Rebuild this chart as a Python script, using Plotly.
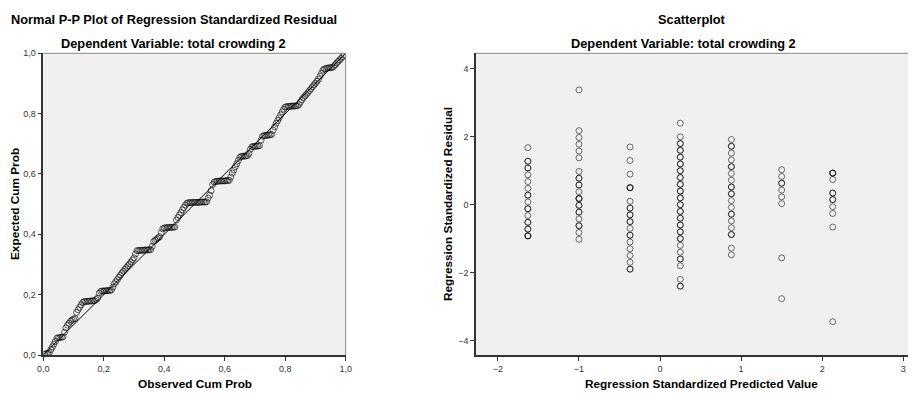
import plotly.graph_objects as go

# ---------------- data ----------------
# Normal P-P plot: observed cum prob (x) vs expected cum prob (y)
pp_observed = [round(0.005 * k, 3) for k in range(1, 200)]
pp_expected = [
    0.003, 0.004, 0.006, 0.008, 0.018, 0.027, 0.036, 0.045, 0.056, 0.057,
    0.058, 0.059, 0.060, 0.075, 0.090, 0.099, 0.105, 0.112, 0.116, 0.119,
    0.121, 0.141, 0.150, 0.158, 0.166, 0.174, 0.177, 0.177, 0.178, 0.178,
    0.179, 0.179, 0.180, 0.180, 0.184, 0.189, 0.205, 0.211, 0.212, 0.212,
    0.213, 0.213, 0.214, 0.214, 0.215, 0.225, 0.236, 0.243, 0.250, 0.258,
    0.265, 0.272, 0.278, 0.284, 0.290, 0.296, 0.302, 0.308, 0.315, 0.322,
    0.335, 0.346, 0.346, 0.347, 0.347, 0.347, 0.348, 0.348, 0.348, 0.349,
    0.349, 0.360, 0.376, 0.380, 0.384, 0.388, 0.392, 0.405, 0.418, 0.421,
    0.422, 0.422, 0.423, 0.423, 0.423, 0.424, 0.424, 0.447, 0.456, 0.464,
    0.472, 0.481, 0.489, 0.497, 0.503, 0.505, 0.505, 0.505, 0.506, 0.506,
    0.506, 0.506, 0.506, 0.507, 0.507, 0.507, 0.507, 0.508, 0.520, 0.530,
    0.545, 0.565, 0.573, 0.575, 0.576, 0.576, 0.577, 0.577, 0.577, 0.577,
    0.578, 0.578, 0.579, 0.590, 0.603, 0.613, 0.624, 0.634, 0.645, 0.655,
    0.658, 0.659, 0.659, 0.660, 0.661, 0.668, 0.682, 0.690, 0.691, 0.692,
    0.692, 0.693, 0.694, 0.712, 0.725, 0.727, 0.728, 0.728, 0.729, 0.730,
    0.731, 0.745, 0.756, 0.768, 0.777, 0.786, 0.796, 0.806, 0.815, 0.822,
    0.823, 0.824, 0.824, 0.825, 0.825, 0.825, 0.826, 0.826, 0.830, 0.838,
    0.846, 0.853, 0.858, 0.864, 0.870, 0.876, 0.882, 0.889, 0.895, 0.901,
    0.907, 0.914, 0.924, 0.934, 0.944, 0.948, 0.950, 0.951, 0.952, 0.952,
    0.953, 0.956, 0.962, 0.968, 0.973, 0.978, 0.983, 0.989, 0.995,
]

# Scatterplot: standardized predicted values (columns) and residuals in each column
pred_values = [-1.63, -1.00, -0.37, 0.25, 0.88, 1.50, 2.13]
residuals_by_col = [
    [1.68, 1.28, 1.08, 0.88, 0.68, 0.48, 0.28, 0.08, -0.12, -0.32, -0.52, -0.72, -0.92],
    [3.38, 2.18, 1.98, 1.78, 1.58, 1.38, 0.98, 0.78, 0.58, 0.38, 0.18, -0.02, -0.22, -0.42, -0.62, -0.82, -1.02],
    [1.70, 1.30, 0.90, 0.50, 0.10, -0.10, -0.30, -0.50, -0.70, -0.90, -1.10, -1.30, -1.50, -1.70, -1.90],
    [2.40, 2.00, 1.80, 1.60, 1.40, 1.20, 1.00, 0.80, 0.60, 0.40, 0.20, 0.00, -0.20, -0.40, -0.60,
     -0.80, -1.00, -1.20, -1.40, -1.60, -1.80, -2.20, -2.40],
    [1.92, 1.72, 1.52, 1.32, 1.12, 0.92, 0.72, 0.52, 0.32, 0.12, -0.08, -0.28, -0.48, -0.68, -0.88, -1.28, -1.48],
    [1.03, 0.83, 0.63, 0.43, 0.23, 0.03, -1.57, -2.77],
    [0.93, 0.74, 0.34, 0.15, -0.06, -0.26, -0.66, -3.45],
]
counts_by_col = [
    [1, 2, 2, 1, 1, 1, 2, 1, 2, 1, 2, 2, 3],
    [1, 1, 1, 1, 1, 1, 1, 2, 2, 1, 3, 2, 2, 1, 2, 1, 1],
    [1, 1, 1, 3, 1, 2, 2, 2, 1, 2, 1, 1, 1, 1, 2],
    [1, 1, 2, 2, 2, 2, 2, 2, 2, 2, 2, 2, 2, 2, 2, 2, 2, 1, 1, 2, 1, 1, 2],
    [1, 2, 1, 1, 2, 1, 1, 2, 2, 1, 1, 2, 1, 1, 2, 1, 1],
    [1, 1, 2, 1, 1, 1, 1, 1],
    [3, 1, 2, 2, 1, 1, 1, 1],
]

pp_ticks = [0.0, 0.2, 0.4, 0.6, 0.8, 1.0]
pp_ticktext = ["0,0", "0,2", "0,4", "0,6", "0,8", "1,0"]
sc_xticks = [-2, -1, 0, 1, 2, 3]
sc_yticks = [-4, -2, 0, 2, 4]

# ---------------- figure ----------------
W, H = 916, 394
OFF = 8  # page body margin offset in the browser
FONT = "Liberation Sans, Arial, sans-serif"
PLOT_BG = "#F0F0F0"
MARK_LINE = "rgba(0,0,0,0.55)"
PP_LINE = "rgba(0,0,0,0.6)"

sx, sy = [], []
for xv, res, cnt in zip(pred_values, residuals_by_col, counts_by_col):
    for r, c in zip(res, cnt):
        for _ in range(c):
            sx.append(xv)
            sy.append(r)

fig = go.Figure()

fig.add_trace(go.Scatter(x=[0, 1], y=[0, 1], mode="lines",
                         line=dict(color="black", width=1),
                         xaxis="x", yaxis="y", hoverinfo="skip", showlegend=False))
fig.add_trace(go.Scatter(x=pp_observed, y=pp_expected, mode="markers",
                         marker=dict(symbol="circle-open", size=6,
                                     line=dict(color=PP_LINE, width=1), color=PP_LINE),
                         xaxis="x", yaxis="y", showlegend=False))
fig.add_trace(go.Scatter(x=sx, y=sy, mode="markers",
                         marker=dict(symbol="circle-open", size=6,
                                     line=dict(color=MARK_LINE, width=1), color=MARK_LINE),
                         xaxis="x2", yaxis="y2", showlegend=False))

# screen pixel positions (as seen in the window)
L_x0, L_x1 = 43.3, 345.7
R_x0, R_x1 = 476.0, 916.0
Y_top, Y_bot = 53.3, 355.0


def px(x):
    return (x - OFF) / W


def py(y):
    return 1 - (y - OFF) / H


tickfont = dict(family=FONT, size=9, color="#333333")
axis_common = dict(showgrid=False, zeroline=False, ticks="outside", ticklen=4,
                   tickwidth=1, tickcolor="#333333", tickfont=tickfont,
                   showline=True, linecolor="#333333", linewidth=1.5, mirror=False,
                   automargin=False, fixedrange=True)

fig.update_layout(
    width=W, height=H,
    margin=dict(l=0, r=0, t=0, b=0, pad=0, autoexpand=False),
    paper_bgcolor="white",
    plot_bgcolor=PLOT_BG,
    showlegend=False,
    xaxis=dict(domain=[px(L_x0), px(L_x1)], range=[0, 1], tickvals=pp_ticks,
               ticktext=pp_ticktext, anchor="y", **axis_common),
    yaxis=dict(domain=[py(Y_bot), py(Y_top)], range=[0, 1], tickvals=pp_ticks,
               ticktext=pp_ticktext, anchor="x", **axis_common),
    xaxis2=dict(domain=[px(R_x0), px(R_x1)], range=[-2.27, 3.157], tickvals=sc_xticks,
                anchor="y2", **axis_common),
    yaxis2=dict(domain=[py(Y_bot), py(Y_top)], range=[-4.43, 4.46], tickvals=sc_yticks,
                anchor="x2", **axis_common),
)

# frame lines (top / right) in lighter gray
fig.add_shape(type="line", xref="paper", yref="paper", x0=px(L_x0), x1=px(L_x1),
              y0=py(Y_top), y1=py(Y_top), line=dict(color="#888888", width=1))
fig.add_shape(type="line", xref="paper", yref="paper", x0=px(L_x1), x1=px(L_x1),
              y0=py(Y_top), y1=py(Y_bot), line=dict(color="#888888", width=1))
fig.add_shape(type="line", xref="paper", yref="paper", x0=px(R_x0), x1=px(R_x1),
              y0=py(Y_top), y1=py(Y_top), line=dict(color="#888888", width=1))


def ann(text, x, y, size=11.8, xanchor="center", angle=0):
    fig.add_annotation(text="<b>%s</b>" % text,
                       x=px(x), y=py(y), xref="paper", yref="paper",
                       xanchor=xanchor, yanchor="middle", showarrow=False,
                       textangle=angle,
                       font=dict(family=FONT, size=size, color="black"))


ann("Normal P-P Plot of Regression Standardized Residual", 9, 19.5, size=12.8, xanchor="left")
ann("Dependent Variable: total crowding 2", 173, 43.5, size=12.8)
ann("Scatterplot", 692, 19.5, size=12.8)
ann("Dependent Variable: total crowding 2", 683, 43.5, size=12.8)
ann("Observed Cum Prob", 195, 384)
ann("Expected Cum Prob", 15, 204, angle=-90)
ann("Regression Standardized Predicted Value", 701, 384)
ann("Regression Standardized Residual", 448, 204, angle=-90)

fig.write_html("out.html")
